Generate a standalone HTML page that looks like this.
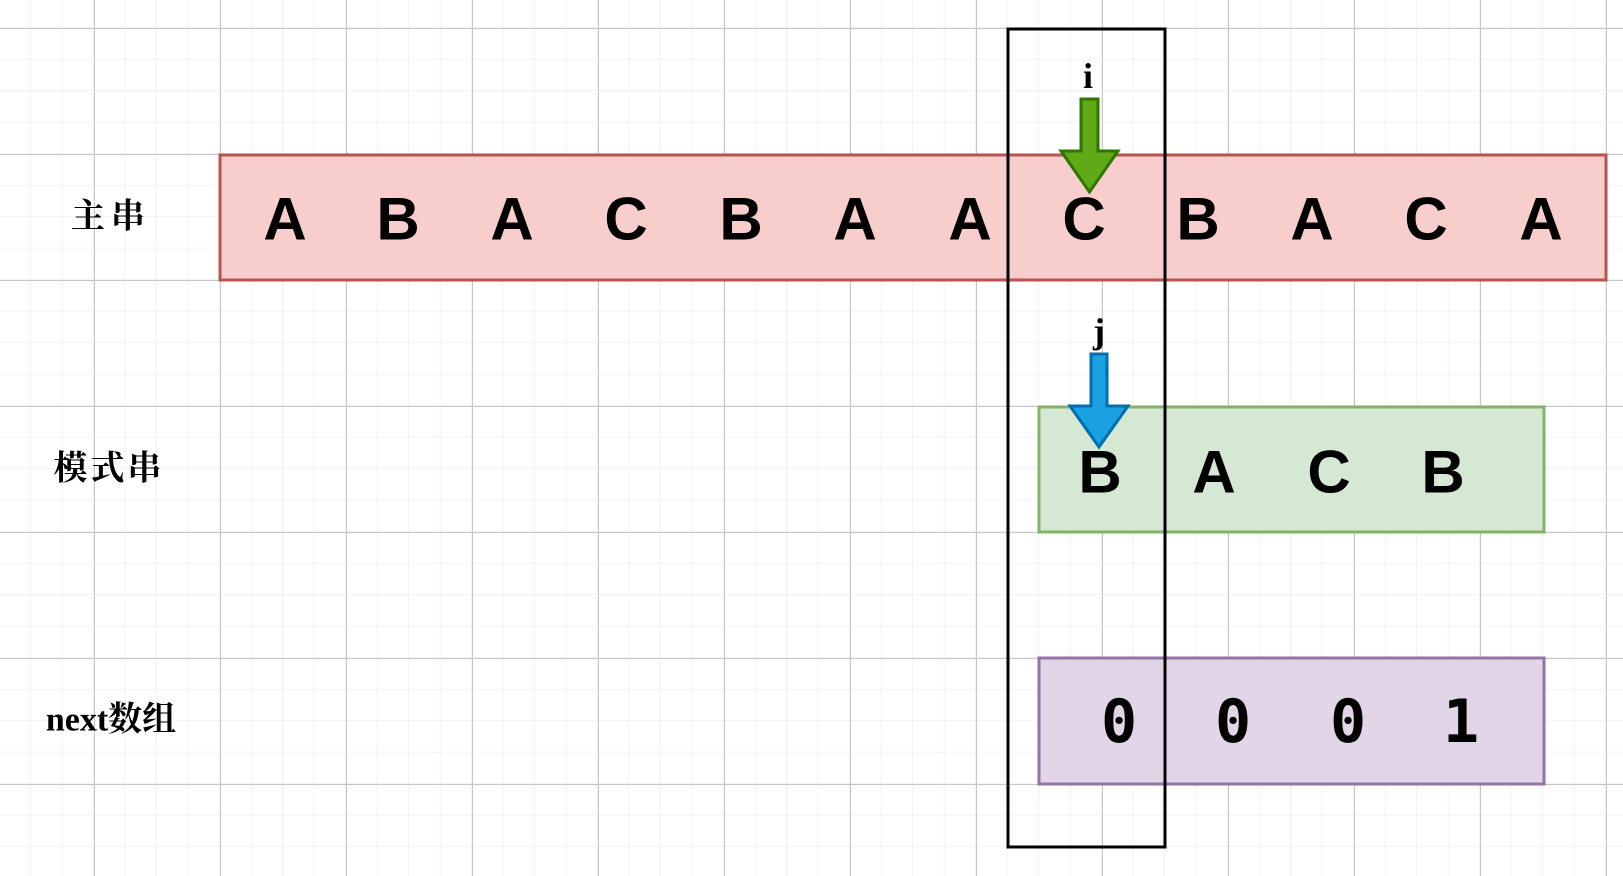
<!DOCTYPE html>
<html><head><meta charset="utf-8"><style>
html,body{margin:0;padding:0;background:#fff;}
svg{display:block;}
.big{font-family:"Liberation Sans","DejaVu Sans",sans-serif;font-weight:bold;font-size:60px;text-anchor:middle;dominant-baseline:central;}
.dig{font-family:"DejaVu Sans Mono","Liberation Mono",monospace;font-weight:bold;font-size:60px;text-anchor:middle;dominant-baseline:central;}
.lab{font-family:"Liberation Serif","Noto Serif CJK SC",serif;font-weight:bold;font-size:34px;text-anchor:middle;dominant-baseline:central;}
.ij{font-family:"Liberation Serif",serif;font-weight:bold;font-size:36px;text-anchor:middle;dominant-baseline:central;}
</style></head><body>
<svg width="1623" height="876" viewBox="0 0 1623 876" xmlns="http://www.w3.org/2000/svg">
<defs>
<pattern id="minor" x="-0.5" y="-3.5" width="31.5" height="31.5" patternUnits="userSpaceOnUse">
<path d="M31.5 0V31.5M0 31.5H31.5" stroke="#efefef" stroke-width="1.5" fill="none"/>
</pattern>
<pattern id="major" x="94" y="28" width="126" height="126" patternUnits="userSpaceOnUse">
<path d="M0.5 0V126M0 0.5H126" stroke="#c6c6c6" stroke-width="1" fill="none"/>
</pattern>
</defs>
<rect width="1623" height="876" fill="url(#minor)"/>
<rect width="1623" height="876" fill="url(#major)"/>

<rect x="220" y="155" width="1386" height="125" fill="#f8cecc" stroke="#b85450" stroke-width="3"/>
<rect x="1039" y="407" width="505" height="125" fill="#d5e8d4" stroke="#82b366" stroke-width="3"/>
<rect x="1039" y="658" width="505" height="126" fill="#e1d5e7" stroke="#9673a6" stroke-width="3"/>

<g class="big">
<text x="285" y="219">A</text><text x="398" y="219">B</text><text x="512" y="219">A</text>
<text x="626" y="219">C</text><text x="741" y="219">B</text><text x="855" y="219">A</text>
<text x="970" y="219">A</text><text x="1084" y="219">C</text><text x="1198" y="219">B</text>
<text x="1312" y="219">A</text><text x="1426" y="219">C</text><text x="1541" y="219">A</text>
<text x="1100" y="472">B</text><text x="1214" y="472">A</text><text x="1329" y="472">C</text><text x="1443" y="472">B</text>
</g>
<g class="dig">
<text x="1119" y="722">0</text><text x="1233" y="722">0</text><text x="1348" y="722">0</text><text x="1461" y="722">1</text>
</g>

<rect x="1008" y="29" width="157" height="818" fill="none" stroke="#000" stroke-width="3"/>

<polygon points="1081,99 1098,99 1098,151 1118,151 1089.5,192 1061,151 1081,151" fill="#60a917" stroke="#2d7600" stroke-width="3"/>
<polygon points="1091,354 1107,354 1107,406 1128,406 1099,447 1070,406 1091,406" fill="#1ba1e2" stroke="#006eaf" stroke-width="3"/>

<text class="ij" x="1088" y="76">i</text>
<text class="ij" x="1099" y="331">j</text>

<text class="lab" x="111" y="217" letter-spacing="6">主串</text>
<text class="lab" x="109" y="469" letter-spacing="3">模式串</text>
<text class="lab" x="111" y="720">next数组</text>
</svg>
</body></html>
